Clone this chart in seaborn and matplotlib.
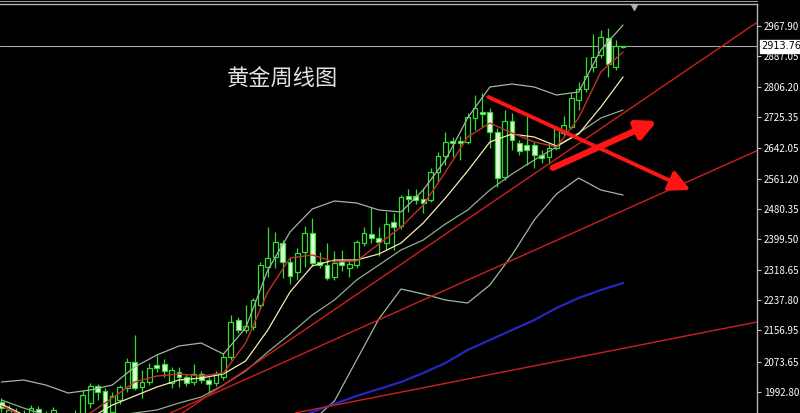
import matplotlib
matplotlib.use("Agg")
import matplotlib.pyplot as plt
import seaborn as sns

# Weekly gold candles, oldest first
opens = [1966.3, 1918.3, 1905.0, 1931.6, 1936.9, 1947.6, 1931.6, 1929.0, 1923.6, 1891.7,
         1905.0, 1918.3, 1963.6, 2008.9, 1995.6, 1939.6, 1971.6, 2003.6, 2072.8, 2006.2,
         2019.5, 2064.8, 2067.5, 2016.9, 2046.2, 2032.9, 2019.5, 2040.9, 2024.9, 2016.9,
         2032.9, 2086.2, 2184.7, 2158.1, 2166.1, 2224.7, 2325.9, 2352.6, 2389.8, 2339.2,
         2312.6, 2365.9, 2416.5, 2339.2, 2331.2, 2299.3, 2341.9, 2323.2, 2331.2, 2389.8,
         2413.8, 2403.2, 2389.8, 2445.8, 2435.1, 2515.1, 2515.1, 2507.1, 2504.4, 2579.0,
         2621.6, 2661.6, 2661.6, 2658.9, 2722.8, 2738.8, 2738.8, 2685.6, 2565.7, 2714.9,
         2656.2, 2650.9, 2650.9, 2624.3, 2619.0, 2642.9, 2682.9, 2698.9, 2770.8, 2800.1,
         2858.7, 2890.7, 2935.9, 2858.7, 2911.0]
highs = [1976.9, 1958.3, 1950.3, 1945.0, 1958.3, 1955.6, 1942.3, 1953.0, 1934.3, 1929.0,
         1945.0, 1998.2, 2016.9, 2014.2, 2003.6, 1992.9, 2011.6, 2083.5, 2144.8, 2051.5,
         2070.2, 2091.5, 2080.8, 2059.5, 2059.5, 2040.9, 2067.5, 2048.9, 2032.9, 2048.9,
         2096.8, 2198.0, 2192.7, 2224.7, 2243.3, 2339.2, 2432.5, 2419.2, 2397.8, 2349.9,
         2376.5, 2435.1, 2456.4, 2365.9, 2389.8, 2368.5, 2371.2, 2341.9, 2397.8, 2432.5,
         2485.7, 2432.5, 2472.4, 2469.8, 2517.7, 2533.7, 2533.7, 2536.4, 2589.6, 2632.3,
         2685.6, 2672.2, 2674.9, 2736.2, 2784.1, 2789.4, 2749.5, 2696.2, 2744.2, 2736.2,
         2664.2, 2736.2, 2658.9, 2637.6, 2656.2, 2701.5, 2728.2, 2789.4, 2818.8, 2885.4,
         2946.6, 2957.3, 2962.6, 2930.6, 2915.5]
lows = [1939.6, 1910.3, 1897.0, 1897.0, 1929.0, 1926.3, 1897.0, 1918.3, 1889.0, 1883.7,
        1897.0, 1905.0, 1950.3, 1971.6, 1915.7, 1931.6, 1960.9, 1992.9, 1998.2, 1976.9,
        2011.6, 2046.2, 2032.9, 2003.6, 2006.2, 2008.9, 2011.6, 2016.9, 1990.2, 2008.9,
        2024.9, 2078.2, 2150.1, 2150.1, 2158.1, 2216.7, 2299.3, 2323.2, 2296.6, 2280.6,
        2291.3, 2325.9, 2328.6, 2323.2, 2291.3, 2291.3, 2315.3, 2299.3, 2323.2, 2381.9,
        2389.8, 2355.2, 2371.2, 2371.2, 2427.1, 2472.4, 2493.7, 2469.8, 2499.1, 2552.4,
        2597.6, 2618.9, 2610.8, 2653.6, 2690.9, 2698.9, 2642.9, 2539.0, 2557.7, 2637.6,
        2624.3, 2597.6, 2589.6, 2603.0, 2600.3, 2637.6, 2674.9, 2693.5, 2744.2, 2792.1,
        2845.4, 2882.7, 2832.1, 2850.7, 2909.5]
closes = [1950.3, 1945.0, 1939.6, 1905.0, 1950.3, 1934.3, 1905.0, 1945.0, 1897.0, 1918.3,
          1931.6, 1984.9, 2008.9, 1992.9, 1923.6, 1982.3, 2006.2, 2072.8, 2003.6, 2019.5,
          2056.8, 2056.8, 2048.9, 2051.5, 2032.9, 2016.9, 2040.9, 2024.9, 2014.2, 2040.9,
          2086.2, 2179.4, 2158.1, 2168.7, 2238.0, 2331.2, 2349.9, 2392.5, 2339.2, 2301.9,
          2363.2, 2416.5, 2336.6, 2331.2, 2296.6, 2336.6, 2331.2, 2333.9, 2392.5, 2416.5,
          2403.2, 2392.5, 2440.5, 2432.5, 2512.4, 2507.1, 2504.4, 2496.4, 2579.0, 2621.6,
          2658.9, 2656.2, 2656.2, 2725.5, 2749.5, 2733.5, 2685.6, 2563.0, 2714.9, 2664.2,
          2634.9, 2637.6, 2624.3, 2616.3, 2642.9, 2693.5, 2704.2, 2776.1, 2800.1, 2834.7,
          2885.4, 2938.6, 2866.7, 2914.7, 2913.76]

# Indicator lines, read every 3rd week
line_idx = list(range(0, 85, 3))
ma5 = [1955.6, 1929.0, 1918.3, 1913.0, 1937.0, 1976.9, 2019.6, 2035.5, 2040.9, 2035.5,
       2043.5, 2123.4, 2259.3, 2349.9, 2357.9, 2339.2, 2341.9, 2387.2, 2432.5, 2491.1,
       2579.0, 2672.2, 2709.5, 2682.9, 2658.9, 2645.6, 2722.8, 2845.4, 2898.7]
ma10 = [1961.0, 1931.6, 1905.0, 1897.0, 1923.6, 1958.3, 1982.3, 2006.2, 2024.9, 2030.2,
        2040.9, 2075.5, 2158.1, 2259.3, 2328.6, 2344.6, 2344.6, 2360.5, 2389.8, 2443.1,
        2509.7, 2581.7, 2659.0, 2680.2, 2672.2, 2648.3, 2680.2, 2752.2, 2832.1]
bb_mid = [1971.6, 1950.3, 1931.6, 1918.3, 1923.6, 1929.0, 1937.0, 1945.0, 1963.6, 1979.6,
          2011.6, 2048.9, 2099.5, 2147.4, 2198.0, 2238.0, 2291.3, 2331.2, 2371.2, 2397.8,
          2440.5, 2477.8, 2531.0, 2573.7, 2611.0, 2645.6, 2682.9, 2722.8, 2744.2]
bb_up = [2019.6, 2024.9, 2011.6, 1990.3, 1998.2, 2011.6, 2059.5, 2091.5, 2115.5, 2123.4,
         2094.1, 2163.4, 2317.9, 2419.2, 2480.4, 2501.7, 2496.4, 2477.8, 2472.4, 2531.0,
         2611.0, 2722.8, 2805.4, 2813.4, 2805.4, 2784.1, 2792.1, 2904.0, 2970.6]
bb_low = [1923.6, 1875.7, 1851.7, 1846.4, 1849.1, 1846.4, 1814.4, 1798.4, 1811.8, 1835.7,
          1929.0, 1934.3, 1881.0, 1875.7, 1915.7, 1968.9, 2078.2, 2187.4, 2267.3, 2254.0,
          2238.0, 2230.0, 2277.9, 2357.9, 2451.1, 2520.4, 2563.0, 2531.0, 2517.7]
blue_idx = list(range(39, 85, 3))
ma_long = [1918.3, 1939.6, 1960.9, 1982.3, 2000.9, 2019.6, 2043.5, 2070.2, 2104.8, 2131.4,
           2158.1, 2184.7, 2216.7, 2243.3, 2264.6, 2283.3]

# Hand-drawn trend lines: two anchors each (week index, price)
trend_lines = [((40.35, 2150.1), (80.9, 2693.5)),
               ((40.35, 2091.5), (86.3, 2496.4)),
               ((40.35, 1939.6), (86.3, 2118.1))]
# Thick red arrows: (start, tip)
arrow_down = ((65.8, 2778.8), (93.1, 2531.0))
arrow_up = ((74.5, 2590.0), (88.6, 2714.9))

price_ticks = [2967.90, 2887.05, 2806.20, 2725.35, 2642.05, 2561.20, 2480.35,
               2399.50, 2318.65, 2237.80, 2156.95, 2073.65, 1992.80]
last_price = 2913.76
title = "黄金周线图"

sns.set_style("dark", {"axes.facecolor": "black", "figure.facecolor": "black",
                       "axes.grid": False})
plt.rcParams['font.family'] = ['Noto Sans CJK SC', 'DejaVu Sans']

fig = plt.figure(figsize=(8, 4.13), dpi=100)
ax = fig.add_axes([0, 0, 757 / 800, 409 / 413])
ax.set_xlim(-0.19, 102.1)
ax.set_ylim(1937.0, 3026.5)

green = '#33dd33'
idx = list(range(len(opens)))
ax.vlines(idx, lows, highs, color=green, lw=0.9, zorder=2)
for i in idx:
    o, c = opens[i], closes[i]
    fill = 'black' if c >= o else '#e2f8da'
    ax.bar(i, c - o, bottom=o, width=0.64, color=fill, edgecolor=green,
           linewidth=0.9, zorder=2.5)

band_col = '#9fb89f'
sns.lineplot(x=line_idx, y=bb_up, ax=ax, color=band_col, lw=0.9, zorder=3)
sns.lineplot(x=line_idx, y=bb_low, ax=ax, color=band_col, lw=0.9, zorder=3)
sns.lineplot(x=line_idx, y=bb_mid, ax=ax, color='#8fae8f', lw=0.9, zorder=3)
sns.lineplot(x=line_idx, y=ma10, ax=ax, color='#f2ecb0', lw=0.9, zorder=3)
sns.lineplot(x=line_idx, y=ma5, ax=ax, color='#c3302a', lw=1.0, zorder=3)
sns.lineplot(x=blue_idx, y=ma_long, ax=ax, color='#2626c0', lw=1.6, zorder=3)

for p1, p2 in trend_lines:
    ax.axline(p1, p2, color='#cc2020', lw=1.0, zorder=4)

ax.annotate('', xy=arrow_down[1], xytext=arrow_down[0], zorder=5,
            arrowprops=dict(arrowstyle='-|>,head_length=0.9,head_width=0.45',
                            color='#ff1515', lw=2.8, mutation_scale=14,
                            shrinkA=0, shrinkB=0))
ax.annotate('', xy=arrow_up[1], xytext=arrow_up[0], zorder=5,
            arrowprops=dict(arrowstyle='-|>,head_length=0.8,head_width=0.4',
                            color='#ff1515', lw=4.5, mutation_scale=14,
                            shrinkA=0, shrinkB=0))

# current price line and label
ax.axhline(last_price, color='#a8a8a8', lw=0.8, zorder=1.5)
ax.text(1.006, last_price, f"{last_price:.2f}", transform=ax.get_yaxis_transform(),
        ha='left', va='center', fontsize=7, color='black', family='DejaVu Sans',
        bbox=dict(facecolor='white', edgecolor='white', pad=1.0), clip_on=False)

ax.text(0.3725, 0.817, title, transform=ax.transAxes, ha='center', va='center',
        fontsize=16, color='#e2e2e2')

# chart shift marker at the top
ax.plot([0.8375], [0.993], marker='v', markersize=5, color='#b0b0b0',
        transform=ax.transAxes, clip_on=False)

ax.yaxis.tick_right()
ax.set_yticks(price_ticks)
ax.set_yticklabels([f"{p:.2f}" for p in price_ticks])
ax.tick_params(axis='y', colors='#c8c8c8', labelcolor='white', labelsize=7,
               length=3, width=0.8, pad=2, right=True, left=False)
ax.set_xticks([])
for side in ['left', 'bottom']:
    ax.spines[side].set_visible(False)
for side in ['top', 'right']:
    ax.spines[side].set_visible(True)
    ax.spines[side].set_color('#b4b4b4')
    ax.spines[side].set_linewidth(1.0)
ax.set_xlabel('')
ax.set_ylabel('')
fig.add_artist(plt.Line2D([0, 757 / 800], [1 - 1.2 / 413] * 2, color='#9a9a9a', lw=0.8))

fig.savefig('out.png', dpi=100, facecolor='black')
